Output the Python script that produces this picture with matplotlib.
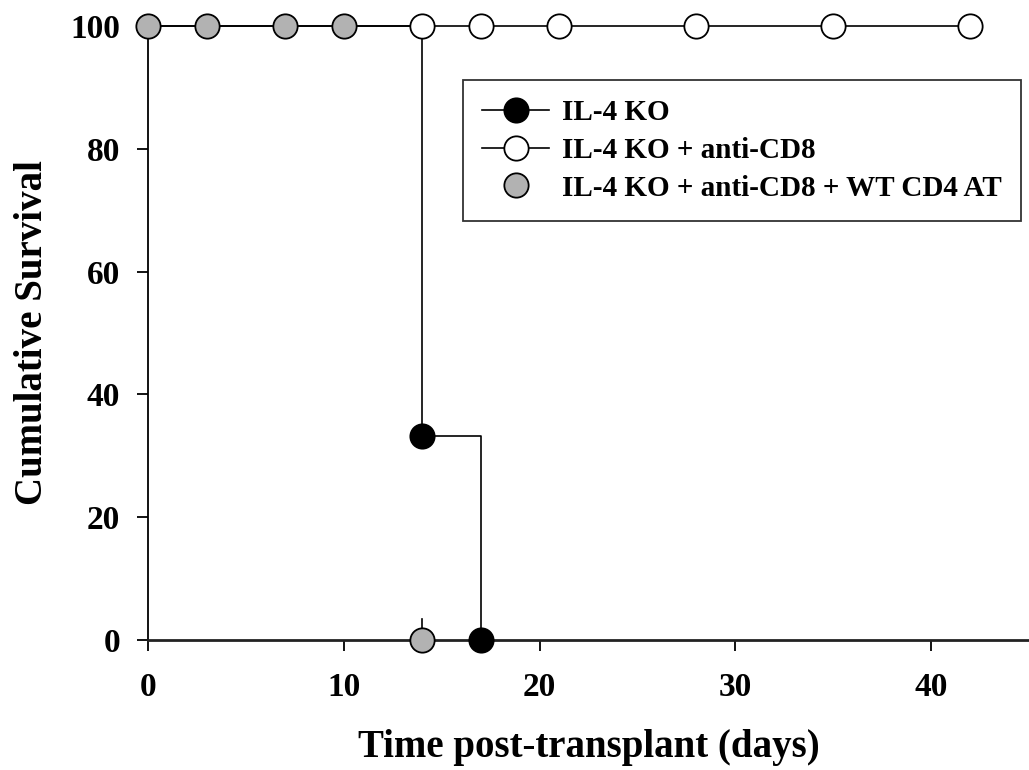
import matplotlib
matplotlib.use("Agg")
import matplotlib.pyplot as plt
from matplotlib.lines import Line2D

plt.rcParams["font.family"] = ["Liberation Serif", "DejaVu Serif"]
plt.rcParams["font.weight"] = "bold"

# ── Data ──────────────────────────────────────────────────────────────────────
ko_days = [0, 14, 14, 17, 17]
ko_surv = [100, 100, 33.3, 33.3, 0]
ko_mark_days = [14, 17]
ko_mark_surv = [33.3, 0]

cd8_days = [0, 42]
cd8_surv = [100, 100]
cd8_mark_days = [14, 17, 21, 28, 35, 42]
cd8_mark_surv = [100, 100, 100, 100, 100, 100]

cd4_mark_days = [0, 3, 7, 10, 14]
cd4_mark_surv = [100, 100, 100, 100, 0]
cd4_tick_days = [14, 14]
cd4_tick_surv = [0, 3.5]

labels = ["IL-4 KO", "IL-4 KO + anti-CD8", "IL-4 KO + anti-CD8 + WT CD4 AT"]

fig = plt.figure(figsize=(10.29, 7.70), dpi=100)
ax = fig.add_axes([148 / 1029, 1 - 640 / 770, 1 - 148 / 1029, (640 - 26) / 770])

lw = 1.2
ms = 17.5
mew = 1.3
gray = "#b2b2b2"

ax.plot(ko_days, ko_surv, color="black", lw=lw, clip_on=False, zorder=2)
ax.plot(cd8_days, cd8_surv, color="black", lw=lw, clip_on=False, zorder=2)
ax.plot(cd4_tick_days, cd4_tick_surv, color="black", lw=lw, clip_on=False, zorder=2)

ax.plot(ko_mark_days, ko_mark_surv, "o", ms=ms, mfc="black", mec="black",
        mew=mew, clip_on=False, zorder=4)
ax.plot(cd8_mark_days, cd8_mark_surv, "o", ms=ms, mfc="white", mec="black",
        mew=mew, clip_on=False, zorder=4)
ax.plot(cd4_mark_days, cd4_mark_surv, "o", ms=ms, mfc=gray, mec="black",
        mew=mew, clip_on=False, zorder=5)

ax.set_xlim(0, 45)
ax.set_ylim(0, 100)
ax.set_xticks([0, 10, 20, 30, 40])
ax.set_yticks([0, 20, 40, 60, 80, 100])

for s in ["top", "right"]:
    ax.spines[s].set_visible(False)
ax.spines["left"].set_linewidth(1.3)
ax.spines["bottom"].set_linewidth(2.0)
ax.spines["bottom"].set_color("#222222")
ax.tick_params(axis="both", direction="out", length=8, width=1.3, labelsize=24)
ax.tick_params(axis="y", pad=12)
ax.tick_params(axis="x", pad=15)
for lab in ax.get_xticklabels() + ax.get_yticklabels():
    lab.set_fontweight("bold")

ax.set_xlabel("Time post-transplant (days)", fontsize=28, fontweight="bold")
ax.set_ylabel("Cumulative Survival", fontsize=28, fontweight="bold")
ax.xaxis.set_label_coords(0.5, -0.145)
ax.yaxis.set_label_coords(-0.110, 0.5)

handles = [
    Line2D([], [], color="black", lw=lw, marker="o", ms=ms, mfc="black",
           mec="black", mew=mew),
    Line2D([], [], color="black", lw=lw, marker="o", ms=ms, mfc="white",
           mec="black", mew=mew),
    Line2D([], [], lw=0, marker="o", ms=ms, mfc=gray, mec="black", mew=mew),
]
leg = ax.legend(handles, labels, loc="upper left",
                bbox_to_anchor=((463 - 148) / 881, 1 - (80 - 26) / 614),
                prop={"size": 21, "weight": "bold"}, frameon=True, fancybox=False,
                edgecolor="black", borderpad=0.65, handlelength=2.3,
                handletextpad=0.45, labelspacing=0.37, borderaxespad=0)
leg.get_frame().set_linewidth(1.3)
leg.set_zorder(6)

fig.savefig("out.png", dpi=100)
